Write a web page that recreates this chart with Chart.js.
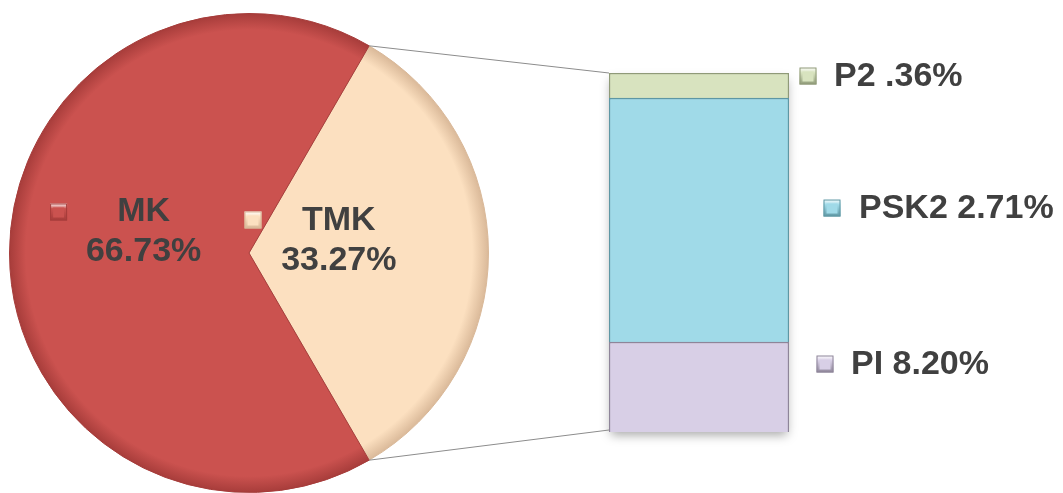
<!DOCTYPE html>
<html>
<head>
<meta charset="utf-8">
<script src="https://cdn.jsdelivr.net/npm/chart.js@4/dist/chart.umd.min.js"></script>
<style>
  html, body { margin: 0; padding: 0; background: #ffffff; }
  #wrap { position: relative; width: 1063px; height: 493px; overflow: hidden; }
  canvas { position: absolute; left: 0; top: 0; }
</style>
</head>
<body>
<div id="wrap">
  <canvas id="pie" width="1063" height="493"></canvas>
  <canvas id="bar" width="1063" height="493"></canvas>
</div>
<script>
// ---- data ----
const pieLabels = ['TMK', 'MK'];
const pieValues = [33.27, 66.73];
const pieLabelText = ['33.27%', '66.73%'];

// stacked bar (bottom to top), segment sizes
const barLabels = ['PI', 'PSK2', 'P2'];
const barValues = [8.34, 22.61, 2.32];
const barLabelText = ['PI 8.20%', 'PSK2 2.71%', 'P2 .36%'];

// ---- styles ----
const pieColors = ['#FCE0C0', '#CB524F'];
const pieEdge = ['#D9B898', '#A63C3A'];
const barColors = ['#D8CFE6', '#A0DAE8', '#D8E3BF'];
const barEdge = ['#8E8599', '#5E97A4', '#8F9A78'];
const textColor = '#404040';
const FONT = 'bold 34px "Liberation Sans", Arial, sans-serif';

Chart.defaults.animation = false;

function marker(ctx, x, y, color, edge) {
  const s = 17;
  ctx.save();
  const g = ctx.createLinearGradient(x, y - s/2, x, y + s/2);
  g.addColorStop(0, '#ffffff');
  g.addColorStop(0.3, color);
  g.addColorStop(1, edge);
  ctx.fillStyle = g;
  ctx.fillRect(x - s/2, y - s/2, s, s);
  ctx.fillStyle = color;
  ctx.fillRect(x - s/2 + 3, y - s/2 + 4, s - 6, s - 7);
  ctx.strokeStyle = edge;
  ctx.lineWidth = 1;
  ctx.strokeRect(x - s/2 + 0.5, y - s/2 + 0.5, s - 1, s - 1);
  ctx.restore();
}

const rotationDeg = 90 - pieValues[0] * 3.6 / 2;

const pieLabelPlugin = {
  id: 'pieLabels',
  afterDraw(chart) {
    const ctx = chart.ctx;
    const arc = chart.getDatasetMeta(0).data[0];
    const cx = arc.x, cy = arc.y, r = arc.outerRadius;
    ctx.save();
    ctx.font = FONT;
    ctx.fillStyle = textColor;
    ctx.textAlign = 'center';
    ctx.textBaseline = 'middle';
    // MK (index 1)
    const mkX = cx - r * 0.44, mkY = cy - 21;
    ctx.fillText(pieLabels[1], mkX, mkY - 20);
    ctx.fillText(pieLabelText[1], mkX, mkY + 20);
    marker(ctx, cx - r * 0.795, cy - 41, pieColors[1], pieEdge[1]);
    // TMK (index 0)
    const tX = cx + r * 0.375, tY = cy - 12;
    ctx.fillText(pieLabels[0], tX, tY - 20);
    ctx.fillText(pieLabelText[0], tX, tY + 20);
    marker(ctx, cx + 4, cy - 33, pieColors[0], pieEdge[0]);
    ctx.restore();
  }
};

const pieChart = new Chart(document.getElementById('pie'), {
  type: 'pie',
  data: {
    labels: pieLabels,
    datasets: [{
      data: pieValues,
      backgroundColor: (c) => {
        const chart = c.chart;
        const a = chart.chartArea;
        if (!a) return pieColors[c.dataIndex];
        const cx = (a.left + a.right) / 2, cy = (a.top + a.bottom) / 2;
        const r = Math.min(a.right - a.left, a.bottom - a.top) / 2;
        const g = chart.ctx.createRadialGradient(cx, cy, 0, cx, cy, r);
        g.addColorStop(0, pieColors[c.dataIndex]);
        g.addColorStop(0.93, pieColors[c.dataIndex]);
        g.addColorStop(1, pieEdge[c.dataIndex]);
        return g;
      },
      borderColor: pieEdge,
      borderWidth: 1
    }]
  },
  options: {
    responsive: false,
    rotation: rotationDeg,
    layout: { padding: { left: 9, top: 13, right: 574, bottom: 0 } },
    plugins: { legend: { display: false }, tooltip: { enabled: false } },
    events: []
  },
  plugins: [pieLabelPlugin]
});

const barExtras = {
  id: 'barExtras',
  beforeDatasetsDraw(chart) {
    const ctx = chart.ctx;
    const a = chart.chartArea;
    ctx.save();
    ctx.shadowColor = 'rgba(0,0,0,0.35)';
    ctx.shadowBlur = 10;
    ctx.shadowOffsetY = 5;
    ctx.fillStyle = '#ffffff';
    ctx.fillRect(a.left + 2, a.top + 2, a.right - a.left - 4, a.bottom - a.top - 4);
    ctx.restore();
  },
  afterDraw(chart) {
    const ctx = chart.ctx;
    const a = chart.chartArea;
    // connector lines from pie arc endpoints
    const arc = pieChart.getDatasetMeta(0).data[0];
    const cx = arc.x, cy = arc.y, r = arc.outerRadius;
    const x1 = cx + r * Math.cos(arc.startAngle), y1 = cy + r * Math.sin(arc.startAngle);
    const x2 = cx + r * Math.cos(arc.endAngle), y2 = cy + r * Math.sin(arc.endAngle);
    ctx.save();
    ctx.strokeStyle = '#8C8C8C';
    ctx.lineWidth = 1;
    ctx.beginPath();
    ctx.moveTo(x1, y1); ctx.lineTo(a.left, a.top);
    ctx.moveTo(x2, y2); ctx.lineTo(a.left, a.bottom - 2);
    ctx.stroke();
    // labels
    ctx.font = FONT;
    ctx.fillStyle = textColor;
    ctx.textAlign = 'left';
    ctx.textBaseline = 'middle';
    const labelOffsets = [[36, 62], [43, 70], [19, 45]]; // marker dx, text dx from bar right
    const labelDy = [-23, -12, 0];
    chart.data.datasets.forEach((ds, i) => {
      const el = chart.getDatasetMeta(i).data[0];
      const midY = (el.y + el.base) / 2;
      let y;
      if (i === 2) y = el.y + 3; else y = midY + labelDy[i];
      marker(ctx, a.right + labelOffsets[i][0], y, barColors[i], barEdge[i]);
      ctx.fillText(barLabelText[i], a.right + labelOffsets[i][1], y + 1);
    });
    ctx.restore();
  }
};

new Chart(document.getElementById('bar'), {
  type: 'bar',
  data: {
    labels: [''],
    datasets: barLabels.map((lab, i) => ({
      label: lab,
      data: [barValues[i]],
      backgroundColor: barColors[i],
      borderColor: barEdge[i],
      borderWidth: 1.5,
      barPercentage: 1,
      categoryPercentage: 1
    }))
  },
  options: {
    responsive: false,
    layout: { padding: { left: 609, right: 274, top: 73, bottom: 61 } },
    scales: {
      x: { stacked: true, display: false },
      y: { stacked: true, display: false, min: 0, max: barValues.reduce((s, v) => s + v, 0) }
    },
    plugins: { legend: { display: false }, tooltip: { enabled: false } },
    events: []
  },
  plugins: [barExtras]
});
</script>
</body>
</html>
